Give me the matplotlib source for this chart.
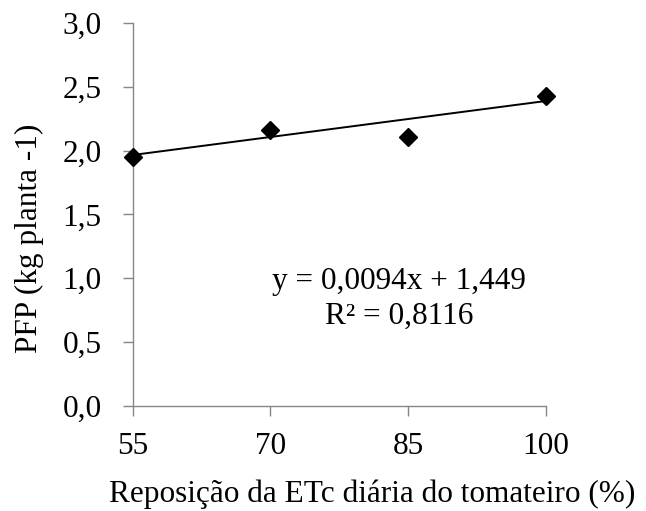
"""PFP versus daily ETc replacement, with linear trendline."""

import matplotlib
matplotlib.use("Agg")
import matplotlib.pyplot as plt
import numpy as np

plt.rcParams["font.family"] = ["Liberation Serif", "DejaVu Serif"]

# data
etc_reposicao = [55, 70, 85, 100]
pfp = [1.95, 2.16, 2.11, 2.43]
trend_slope = 0.0094
trend_intercept = 1.449
x_ticks = [55, 70, 85, 100]
y_ticks = [0.0, 0.5, 1.0, 1.5, 2.0, 2.5, 3.0]

AXIS_GRAY = "#868686"
FONT_SIZE = 22.5


def main() -> None:
    fig = plt.figure(figsize=(6.46, 5.11), dpi=100)
    ax = fig.add_axes([0.2054, 0.2055, 0.6396, 0.7495])

    x_line = np.array([etc_reposicao[0], etc_reposicao[-1]], dtype=float)
    ax.plot(x_line, trend_slope * x_line + trend_intercept, color="black", lw=1.4, zorder=2)
    ax.plot(etc_reposicao, pfp, linestyle="none", marker="D", markersize=9.5,
            color="black", zorder=3, clip_on=False)

    ax.set_xlim(55, 100)
    ax.set_ylim(0, 3)
    ax.set_xticks(x_ticks)
    ax.set_xticklabels([str(v) for v in x_ticks])
    ax.set_yticks(y_ticks)
    ax.set_yticklabels([f"{v:.1f}".replace(".", ",") for v in y_ticks])

    for side in ("top", "right"):
        ax.spines[side].set_visible(False)
    for side in ("left", "bottom"):
        ax.spines[side].set_color(AXIS_GRAY)
        ax.spines[side].set_linewidth(1.0)
    ax.tick_params(axis="both", direction="out", length=7, width=1.0, color=AXIS_GRAY,
                   labelsize=FONT_SIZE, labelcolor="black")
    ax.tick_params(axis="x", pad=11.5)
    ax.tick_params(axis="y", pad=15.5)

    # axis titles sit off-centre in the original, so place them on the figure
    fig.text(372 / 646, 1 - 502 / 511, "Reposição da ETc diária do tomateiro (%)",
             ha="center", va="baseline", fontsize=FONT_SIZE)
    fig.text(29 / 646, 1 - 238 / 511, "PFP (kg planta -1)", rotation=90,
             ha="center", va="center", fontsize=FONT_SIZE)

    ax.text(0.644, 0.279, "y = 0,0094x + 1,449\nR² = 0,8116", transform=ax.transAxes,
            ha="center", va="center", fontsize=FONT_SIZE, linespacing=1.25)

    fig.savefig("out.png", dpi=100)
    plt.close(fig)


if __name__ == "__main__":
    main()
